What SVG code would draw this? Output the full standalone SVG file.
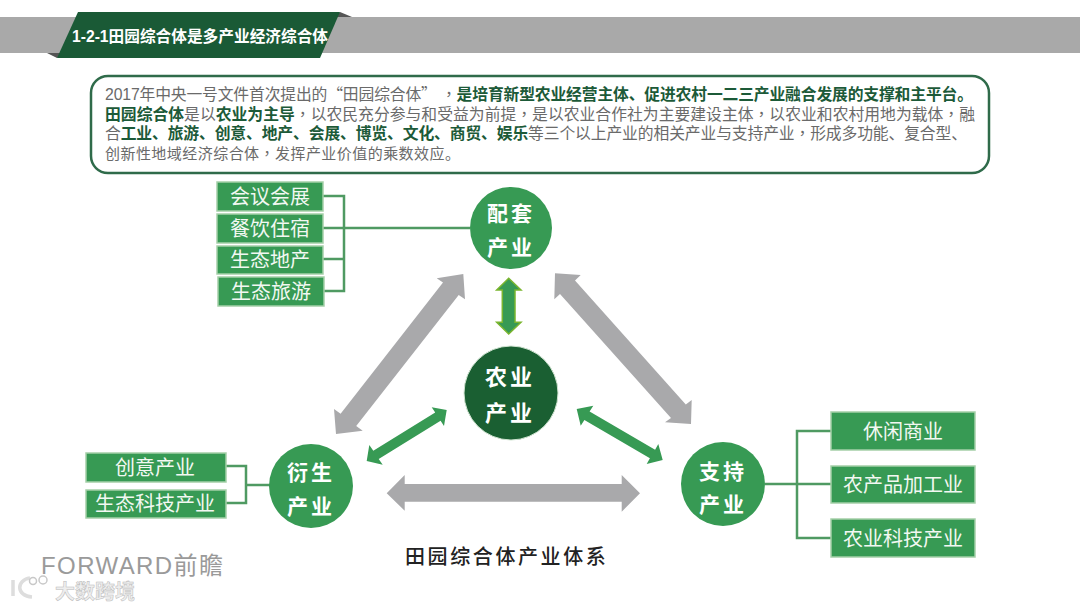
<svg xmlns="http://www.w3.org/2000/svg" width="1080" height="607" viewBox="0 0 1080 607">
<style>
text{font-family:"Liberation Sans","Noto Sans CJK SC",sans-serif}
.body{font-size:15.8px;fill:#6a6a6a}
.b{font-weight:700;fill:#1c5a38}
.p{font-family:"Noto Sans CJK TC",sans-serif}
.box{fill:#379a54;stroke:#a5cfa8;stroke-width:1.5}
.bt{font-size:20px;fill:#f2f8f2;text-anchor:middle}
.ct{font-size:21px;font-weight:700;fill:#fff;text-anchor:middle;letter-spacing:3px}
.gray{fill:#a9a9ab}
.green{fill:#379a54}
.line{fill:none;stroke:#4f9a62;stroke-width:2.5}
</style>
<rect width="1080" height="607" fill="#fff"/>
<g id="header">
<rect x="0" y="17" width="1080" height="36" fill="#a9a9a9"/>
<polygon points="47,53 57,58 62,53" fill="#555"/>
<polygon points="340,12 352,17 336,17" fill="#555"/>
<polygon points="78,12 340,12 320,58 57,58" fill="#1a5a36"/>
<text x="72" y="42" font-size="16" font-weight="700" fill="#fff" textLength="256" lengthAdjust="spacingAndGlyphs">1-2-1田园综合体是多产业经济综合体</text>
</g>
<g id="intro">
<rect x="91" y="76" width="898" height="97" rx="17" fill="#fff" stroke="#2f6b4a" stroke-width="2.5"/>
<text class="body" x="105" y="100" textLength="868" lengthAdjust="spacing">2017年中央一号文件首次提出的<tspan class="p">“</tspan>田园综合体<tspan class="p">”</tspan> <tspan class="p">，</tspan><tspan class="b">是培育新型农业经营主体、促进农村一二三产业融合发展的支撑和主平台。</tspan></text>
<text class="body" x="105" y="120" textLength="870" lengthAdjust="spacing"><tspan class="b">田园综合体</tspan>是以<tspan class="b">农业为主导</tspan><tspan class="p">，</tspan>以农民充分参与和受益为前提<tspan class="p">，</tspan>是以农业合作社为主要建设主体<tspan class="p">，</tspan>以农业和农村用地为载体<tspan class="p">，</tspan>融</text>
<text class="body" x="105" y="139" textLength="862" lengthAdjust="spacing">合<tspan class="b">工业、旅游、创意、地产、会展、博览、文化、商贸、娱乐</tspan>等三个以上产业的相关产业与支持产业<tspan class="p">，</tspan>形成多功能、复合型、</text>
<text class="body" x="105" y="158.5" textLength="355" lengthAdjust="spacing" style="font-size:15px">创新性地域经济综合体<tspan class="p">，</tspan>发挥产业价值的乘数效应。</text>
</g>
<g id="connectors">
<path class="line" d="M323 196H344V291H324M323 259H344M323 228H470"/>
<path class="line" d="M226 466H246V503H226M246 485H270"/>
<path class="line" d="M831 431H797V538H831M765 484H831"/>
<polygon class="gray" points="463.3,274 465,299.3 458.7,295 356.2,426.1 362.7,430.7 336,434 334,409 340.6,413.7 443,282.6 436.7,278.3"/>
<polygon class="gray" points="555,273.3 580.7,275 575,280.5 685.8,404.5 691.7,400 691,424 665,422.3 671,417.9 560,293.9 554.3,299.3"/>
<polygon class="gray" points="386.7,493.3 404.7,475 404.7,484 621.7,484 621.7,475 640,493.3 621.7,511.7 621.7,501.7 404.7,501.7 404.7,510.7"/>
<polygon class="green" stroke="#7ab52e" stroke-width="1.5" points="508.7,278.3 521,290 515,290 515,322.3 521,322.3 508.7,334 496.7,322.3 502.3,322.3 502.3,290 496.7,290"/>
<polygon class="green" points="446.7,410 444,426 440.6,420.8 378.7,459.1 382.7,464.7 366.7,461 369.3,445 373.3,450.7 435.2,412.4 431.7,407.3"/>
<polygon class="green" points="576.7,409 593.3,405.7 589.6,411.4 655.1,449.7 658.3,444 662.7,460 646.7,464 649.9,458.3 584.4,420 580.7,425.7"/>
</g>
<g id="node-peitao"><circle class="green" cx="511" cy="228" r="41"/><text class="ct" x="511" y="221">配套</text><text class="ct" x="511" y="255">产业</text></g>
<g id="node-nongye"><circle cx="511" cy="393" r="47" fill="#1a5f32" stroke="#cfe3d0" stroke-width="1"/><text class="ct" x="510" y="384.5" style="font-size:22px">农业</text><text class="ct" x="510" y="421" style="font-size:22px">产业</text></g>
<g id="node-yansheng"><circle class="green" cx="311" cy="486" r="42"/><text class="ct" x="311" y="480">衍生</text><text class="ct" x="311" y="514">产业</text></g>
<g id="node-zhichi"><circle class="green" cx="723" cy="484" r="42"/><text class="ct" x="723" y="479">支持</text><text class="ct" x="723" y="512">产业</text></g>
<g id="item-1"><rect class="box" x="217" y="182" width="106" height="29"/><text class="bt" x="270" y="204">会议会展</text></g>
<g id="item-2"><rect class="box" x="217" y="214" width="106" height="29"/><text class="bt" x="270" y="236">餐饮住宿</text></g>
<g id="item-3"><rect class="box" x="217" y="246" width="106" height="28"/><text class="bt" x="270" y="267">生态地产</text></g>
<g id="item-4"><rect class="box" x="218" y="277" width="106" height="29"/><text class="bt" x="271" y="299">生态旅游</text></g>
<g id="item-5"><rect class="box" x="86" y="453" width="140" height="29"/><text class="bt" x="155" y="475">创意产业</text></g>
<g id="item-6"><rect class="box" x="86" y="490" width="140" height="28"/><text class="bt" x="155" y="511">生态科技产业</text></g>
<g id="item-7"><rect class="box" x="831" y="412" width="144" height="38"/><text class="bt" x="903" y="439">休闲商业</text></g>
<g id="item-8"><rect class="box" x="831" y="466" width="144" height="37"/><text class="bt" x="903" y="492">农产品加工业</text></g>
<g id="item-9"><rect class="box" x="831" y="519" width="144" height="38"/><text class="bt" x="903" y="546">农业科技产业</text></g>
<text x="405" y="564" font-size="20" letter-spacing="2.6" font-weight="500" fill="#222">田园综合体产业体系</text>
<g id="watermark">
<text x="41" y="574" font-size="24" fill="#9a9a9a" textLength="182" lengthAdjust="spacing">FORWARD前瞻</text>
<path d="M13 580V596M30 578C16 580 16 596 32 597" fill="none" stroke="#ddd" stroke-width="3.5"/>
<circle cx="33" cy="581" r="3.5" fill="none" stroke="#c8c8c8" stroke-width="1.5"/><circle cx="43" cy="580" r="4" fill="none" stroke="#c8c8c8" stroke-width="1.5"/>
<text x="55" y="599" font-size="20" font-weight="700" fill="#eee" stroke="#bbb" stroke-width=".5">大数跨境</text>
</g>
</svg>
